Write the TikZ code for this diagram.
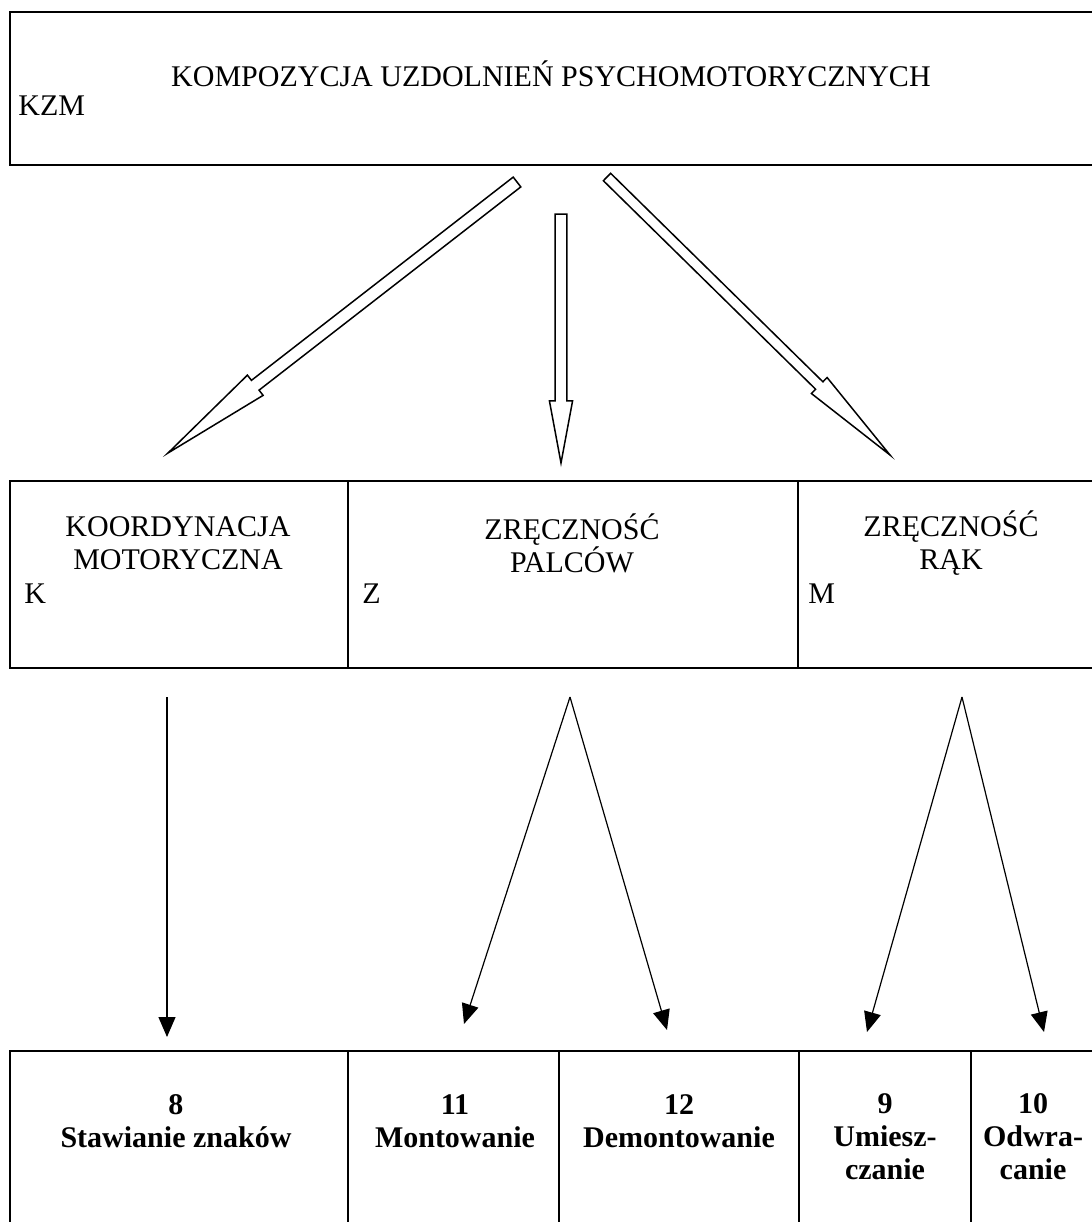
\documentclass[tikz,border=0pt]{standalone}
\usepackage{fontspec}
\setmainfont{Liberation Serif}
\usetikzlibrary{calc,arrows.meta,fit}

% hollow block arrow: tail, tip, shaft half width, head half width
\newcommand{\hollowarrow}[4]{%
  \coordinate (hb) at ($(#1)!0.75!(#2)$);
  \draw[hollow] ($(#1)!#3!90:(#2)$) -- ($(hb)!#3!90:(#2)$) -- ($(hb)!#4!90:(#2)$)
    -- (#2) -- ($(hb)!#4!-90:(#2)$) -- ($(hb)!#3!-90:(#2)$) -- ($(#1)!#3!-90:(#2)$) -- cycle;
}

\tikzset{
  cell/.style={draw, line width=1pt, inner sep=0pt},
  hollow/.style={line width=0.75pt},
  thinarrow/.style={line width=0.6pt, -{Triangle[length=10pt, width=8.5pt]}},
  txt/.style={font=\fontsize{15}{16.5}\selectfont, inner sep=0pt, align=center},
  bold/.style={txt, font=\fontsize{15}{16.5}\selectfont\bfseries}
}

\begin{document}
\begin{tikzpicture}[x=0.5pt, y=-0.5pt]
            \useasboundingbox (0,0) rectangle (1092,1222);
            \clip (0,0) rectangle (1092,1222);

            % Top box
            \node[cell, fit={(10,12) (1096,165)}] (kzm) {};
            \node[txt] (kzmtitle) at (551,74) {KOMPOZYCJA UZDOLNIEŃ PSYCHOMOTORYCZNYCH};
            \node[txt, anchor=west] (kzmlabel) at (18,106) {KZM};

            % Middle row
            \node[cell, fit={(10,481) (348,668)}] (k) {};
            \node[cell, fit={(348,481) (798,668)}] (z) {};
            \node[cell, fit={(798,481) (1096,668)}] (m) {};
            \node[txt] (ktitle) at (178,543) {KOORDYNACJA\\MOTORYCZNA};
            \node[txt] (ztitle) at (572,543) {ZRĘCZNOŚĆ\\PALCÓW};
            \node[txt] (mtitle) at (951,543) {ZRĘCZNOŚĆ\\RĄK};
            \node[txt, anchor=west] (klabel) at (24,594) {K};
            \node[txt, anchor=west] (zlabel) at (362,594) {Z};
            \node[txt, anchor=west] (mlabel) at (808,594) {M};

            % Bottom row
            \node[cell, fit={(10,1051) (348,1240)}] (t8) {};
            \node[cell, fit={(348,1051) (559,1240)}] (t11) {};
            \node[cell, fit={(559,1051) (799,1240)}] (t12) {};
            \node[cell, fit={(799,1051) (971,1240)}] (t9) {};
            \node[cell, fit={(971,1051) (1096,1240)}] (t10) {};
            \node[bold] (n8) at (176,1121) {8\\Stawianie znaków};
            \node[bold] (n11) at (455,1121) {11\\Montowanie};
            \node[bold] (n12) at (679,1121) {12\\Demontowanie};
            \node[bold] (n9) at (885,1137) {9\\Umiesz-\\czanie};
            \node[bold] (n10) at (1033,1137) {10\\Odwra-\\canie};

            % Block arrows
            \coordinate (ktail) at (517,182);
            \coordinate (ktip) at (168,453);
            \coordinate (ztail) at (561,214);
            \coordinate (ztip) at (561,463);
            \coordinate (mtail) at (607,177);
            \coordinate (mtip) at (890,455);
            \hollowarrow{ktail}{ktip}{3.1pt}{6.4pt}
            \hollowarrow{ztail}{ztip}{2.9pt}{5.8pt}
            \hollowarrow{mtail}{mtip}{2.6pt}{5.6pt}

            % Thin arrows
            \coordinate (kout) at (167,697);
            \coordinate (zout) at (570,697);
            \coordinate (mout) at (962,697);
            \coordinate (in8) at (167,1037);
            \coordinate (in11) at (464,1024);
            \coordinate (in12) at (667,1030);
            \coordinate (in9) at (867,1032);
            \coordinate (in10) at (1044,1032);
            \draw[thinarrow] (kout) -- (in8);
            \draw[thinarrow] (zout) -- (in11);
            \draw[thinarrow] (zout) -- (in12);
            \draw[thinarrow] (mout) -- (in9);
            \draw[thinarrow] (mout) -- (in10);
        \end{tikzpicture}
\end{document}
